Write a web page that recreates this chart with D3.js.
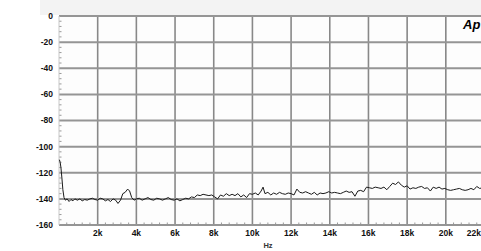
<!DOCTYPE html>
<html><head><meta charset="utf-8">
<script src="https://cdn.jsdelivr.net/npm/d3@7"></script>
<style>body{margin:0;background:#fff;}svg{display:block;}</style>
</head><body>
<svg id="c" width="481" height="251"></svg>
<script>
const xTicks = [2000,4000,6000,8000,10000,12000,14000,16000,18000,20000,22000];
const xTickLabels = ["2k","4k","6k","8k","10k","12k","14k","16k","18k","20k","22k"];
const yTicks = [0,-20,-40,-60,-80,-100,-120,-140,-160];
const yTickLabels = ["0","-20","-40","-60","-80","-100","-120","-140","-160"];
const freq = [20,60,100,150,200,260,330,420,520,620,720,820,950,1080,1200,1330,1460,1600,1730,1860,2000,2130,2260,2400,2530,2660,2800,2930,3050,3180,3300,3420,3550,3650,3760,3880,4000,4150,4300,4450,4600,4750,4900,5050,5200,5350,5500,5650,5800,5950,6100,6250,6400,6550,6700,6850,7000,7150,7300,7450,7600,7750,7900,8050,8200,8350,8500,8650,8800,8950,9100,9250,9400,9550,9700,9850,10000,10150,10300,10450,10550,10650,10800,10950,11100,11250,11400,11550,11700,11850,12000,12150,12300,12450,12600,12750,12900,13050,13200,13350,13500,13650,13800,13950,14100,14250,14400,14550,14700,14850,15000,15150,15300,15450,15600,15750,15900,16050,16200,16350,16500,16650,16800,16950,17100,17250,17400,17550,17700,17850,18000,18150,18300,18450,18600,18750,18900,19050,19200,19350,19500,19650,19800,19950,20100,20250,20400,20550,20700,20850,21000,21150,21300,21450,21600,21750,21900,22000];
const level = [-110,-112,-116,-124,-133,-139,-141,-140,-142,-140.5,-141.5,-140,-141,-140,-141.5,-140.5,-141,-140,-139.5,-140.5,-141,-139.5,-140,-141.5,-140.5,-142,-140,-141,-143.5,-141,-136,-135,-132.5,-134,-139,-141,-140,-139.5,-141,-140,-139,-140.5,-141,-139.5,-140,-141,-140,-139,-140.5,-141,-140,-141.5,-140.5,-139.5,-140,-138.5,-139,-137,-137.5,-136.5,-137,-137.5,-137,-138.5,-140,-137,-138,-136,-137.5,-136.5,-137.5,-136,-138.5,-137,-139,-136,-136.5,-135.5,-137,-134,-131,-136,-135,-137,-135.5,-136.5,-135,-136,-136.5,-135.5,-136,-137,-132.5,-135,-135.5,-134.5,-135.5,-136.5,-135,-137,-135.5,-136,-135.5,-134.5,-135.5,-135,-135.5,-136,-135,-134,-135,-134.5,-138,-134,-133.5,-134.5,-131,-131.5,-132,-131,-131.5,-132,-131,-133,-130.5,-128,-129,-127,-129.5,-131,-130,-132.5,-131.5,-132,-131,-130.5,-132,-131.5,-134,-131,-132,-131,-132.5,-132,-133,-133.5,-133,-132.5,-132,-133,-133.5,-133,-132,-133,-130.5,-132,-131.5,-132];

const svg = d3.select("#c");
const x = d3.scaleLinear().domain([0,22000]).range([59,484.5]);
const y = d3.scaleLinear().domain([-160,0]).range([225,16]);

// top strip
svg.append("rect").attr("x",40).attr("y",0).attr("width",441).attr("height",15).attr("fill","#f3f3f3");
svg.append("rect").attr("x",59).attr("y",16).attr("width",422).attr("height",209).attr("fill","#fdfdfd");

// minor ticks
const minorX = d3.range(0,22001,400).filter(v=>v%2000!==0);
svg.append("g").selectAll("line").data(minorX).join("line")
  .attr("x1",d=>x(d)).attr("x2",d=>x(d)).attr("y1",y(-160)).attr("y2",y(-160)-2.5)
  .attr("stroke","#999").attr("stroke-width",1);
const minorY = d3.range(-160,1,4).filter(v=>v%20!==0);
svg.append("g").selectAll("line").data(minorY).join("line")
  .attr("x1",x(0)).attr("x2",x(0)+2.5).attr("y1",d=>y(d)).attr("y2",d=>y(d))
  .attr("stroke","#999").attr("stroke-width",1);

// grid
svg.append("g").selectAll("line").data(xTicks).join("line")
  .attr("x1",d=>x(d)).attr("x2",d=>x(d)).attr("y1",y(0)).attr("y2",y(-160))
  .attr("stroke","#888").attr("stroke-width",1.6);
svg.append("g").selectAll("line").data(yTicks).join("line")
  .attr("x1",x(0)).attr("x2",481).attr("y1",d=>y(d)).attr("y2",d=>y(d))
  .attr("stroke","#959595").attr("stroke-width",2);
svg.append("line").attr("x1",x(0)).attr("x2",x(0)).attr("y1",y(0)).attr("y2",y(-160))
  .attr("stroke","#c8c8c8").attr("stroke-width",1);

// axes labels
const font = "'Liberation Sans Narrow','Liberation Sans',Arial,sans-serif";
svg.append("g").selectAll("text").data(yTicks).join("text")
  .attr("x",53).attr("y",d=>y(d)).attr("dy","0.35em").attr("text-anchor","end")
  .attr("font-family",font).attr("font-size",8.5).attr("font-weight","bold").attr("fill","#111")
  .text((d,i)=>yTickLabels[i]);
svg.append("g").selectAll("text").data(xTicks).join("text")
  .attr("x",(d,i)=>i===xTicks.length-1 ? 481 : x(d)).attr("y",236)
  .attr("text-anchor",(d,i)=>i===xTicks.length-1 ? "end" : "middle")
  .attr("font-family",font).attr("font-size",8.5).attr("font-weight","bold").attr("fill","#111")
  .text((d,i)=>xTickLabels[i]);
svg.append("text").attr("x",268).attr("y",248).attr("text-anchor","middle")
  .attr("font-family",font).attr("font-size",7.5).attr("font-weight","bold").attr("fill","#333").text("Hz");

// trace
const line = d3.line().x((d,i)=>x(freq[i])).y(d=>y(d));
svg.append("path").datum(level).attr("d",line).attr("fill","none")
  .attr("stroke","#1a1a1a").attr("stroke-width",1).attr("stroke-linejoin","round");

// logo
svg.append("text").attr("x",463).attr("y",29).attr("font-family","'Liberation Sans',Arial,sans-serif")
  .attr("font-size",13).attr("font-weight","bold").attr("font-style","italic").attr("fill","#000").text("Ap");
</script>
</body></html>
